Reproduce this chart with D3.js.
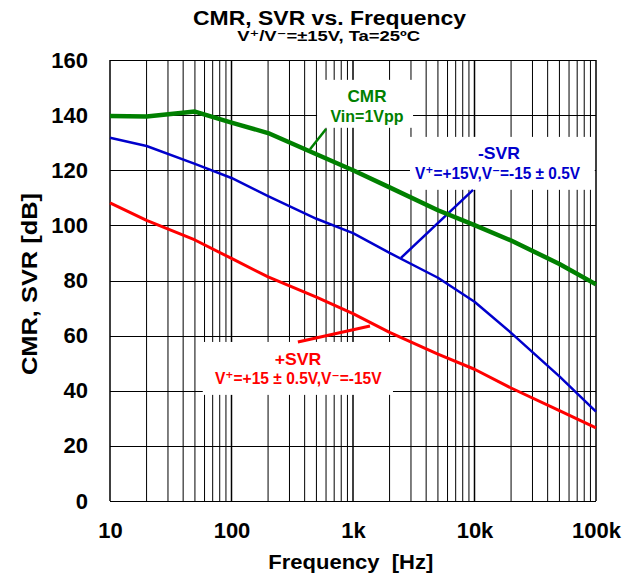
<!DOCTYPE html>
<html>
<head>
<meta charset="utf-8">
<script src="https://cdn.jsdelivr.net/npm/d3@7"></script>
<style>
  html, body { margin: 0; padding: 0; background: #fff; }
  text { font-family: "Liberation Sans", Arial, "DejaVu Sans", sans-serif; font-weight: bold; }
</style>
</head>
<body>
<svg id="chart" width="638" height="581"></svg>
<script>
// ---- data ----
const freq   = [10, 20, 50, 100, 200, 500, 1000, 2000, 5000, 10000, 20000, 50000, 100000];
const cmr    = [139.7, 139.5, 141.3, 137.3, 133.5, 125.8, 120, 113.8, 105.5, 100.1, 94.5, 86, 78.6];
const svrNeg = [131.8, 128.8, 122.3, 117.2, 110.6, 102.4, 97.2, 90, 81, 72.3, 61, 45.2, 32.4];
const svrPos = [108.2, 101.8, 94.7, 88, 81.3, 74, 68, 61.2, 53.3, 47.8, 41, 32.8, 26.5];
const xTickValues = [10, 100, 1000, 10000, 100000];
const xTickLabels = ["10", "100", "1k", "10k", "100k"];
const yTickValues = [0, 20, 40, 60, 80, 100, 120, 140, 160];

const L = 110, R = 596, T = 60, B = 501;
const svg = d3.select("#chart");

const x = d3.scaleLog().domain([10, 100000]).range([L, R]);
const y = d3.scaleLinear().domain([0, 160]).range([B, T]);

// ---- grid ----
const grid = svg.append("g");
const minorF = [];
for (let d = 10; d < 100000; d *= 10) for (let k = 2; k <= 9; k++) minorF.push(d * k);
grid.selectAll("line.minor").data(minorF).enter().append("line")
  .attr("x1", d => x(d)).attr("x2", d => x(d)).attr("y1", T).attr("y2", B)
  .attr("stroke", "#000").attr("stroke-width", 1);
grid.selectAll("line.major").data(xTickValues).enter().append("line")
  .attr("x1", d => x(d)).attr("x2", d => x(d)).attr("y1", T).attr("y2", B)
  .attr("stroke", "#000").attr("stroke-width", 1.5);
grid.selectAll("line.h").data(yTickValues).enter().append("line")
  .attr("x1", L).attr("x2", R).attr("y1", d => Math.round(y(d)) + 0.5).attr("y2", d => Math.round(y(d)) + 0.5)
  .attr("stroke", "#000").attr("stroke-width", 1);

// ---- annotation boxes (white background behind labels), in data coords ----
const boxes = [
  { f0: 506, f1: 3120, v0: 152.8, v1: 135.4 },
  { f0: 2944, f1: 97700, v0: 132.1, v1: 112.9 },
  { f0: 58, f1: 2133, v0: 57.7, v1: 38.5 }
];
svg.append("g").selectAll("rect").data(boxes).enter().append("rect")
  .attr("x", d => x(d.f0)).attr("width", d => x(d.f1) - x(d.f0))
  .attr("y", d => y(d.v0)).attr("height", d => y(d.v1) - y(d.v0))
  .attr("fill", "#fff");

// ---- curves ----
const line = d3.line().x(d => x(d[0])).y(d => y(d[1]));
const series = [
  { vals: svrPos, color: "#ff0000", w: 3 },
  { vals: svrNeg, color: "#0000cc", w: 2.5 },
  { vals: cmr,    color: "#008000", w: 4.5 }
];

// leaders
const leaders = [
  { f0: 352, v0: 57.7, f1: 1380, v1: 63.5, color: "#ff0000", w: 3 },
  { f0: 2483, v0: 88.2, f1: 9730, v1: 112.9, color: "#0000cc", w: 2.5 },
  { f0: 443, v0: 127.6, f1: 600, v1: 135.0, color: "#008000", w: 2.5 }
];
svg.append("g").selectAll("line").data(leaders).enter().append("line")
  .attr("x1", d => x(d.f0)).attr("y1", d => y(d.v0))
  .attr("x2", d => x(d.f1)).attr("y2", d => y(d.v1))
  .attr("stroke", d => d.color).attr("stroke-width", d => d.w);

svg.append("g").selectAll("path").data(series).enter().append("path")
  .attr("d", d => line(freq.map((f, i) => [f, d.vals[i]])))
  .attr("fill", "none").attr("stroke", d => d.color).attr("stroke-width", d => d.w)
  .attr("stroke-linejoin", "round");

// ---- axes ----
const yAxis = svg.append("g").attr("transform", `translate(${L},0)`)
  .call(d3.axisLeft(y).tickValues(yTickValues).tickSize(0).tickPadding(22).tickFormat(d3.format("d")));
yAxis.select(".domain").remove();
yAxis.selectAll("text").attr("font-size", 22).attr("fill", "#000")
  .style("font-family", '"Liberation Sans", Arial, sans-serif').style("font-weight", "bold");

const xAxis = svg.append("g").attr("transform", `translate(0,${B})`)
  .call(d3.axisBottom(x).tickValues(xTickValues).tickSize(0).tickPadding(21)
    .tickFormat((d, i) => xTickLabels[i]));
xAxis.select(".domain").remove();
xAxis.selectAll("text").attr("font-size", 22).attr("fill", "#000")
  .style("font-family", '"Liberation Sans", Arial, sans-serif').style("font-weight", "bold");

// ---- titles ----
function txt(cx, by, size, len, color, s) {
  return svg.append("text").attr("x", cx).attr("y", by).attr("text-anchor", "middle")
    .attr("font-size", size).attr("fill", color)
    .attr("textLength", len).attr("lengthAdjust", "spacingAndGlyphs")
    .style("white-space", "pre").text(s);
}
txt(329.5, 24.5, 19.5, 273, "#000", "CMR, SVR vs. Frequency");
txt(328.7, 41, 15, 183, "#000", "V\u207A/V\u207B=±15V, Ta=25ºC");
txt(350.8, 569.3, 21, 165, "#000", "Frequency  [Hz]");
svg.append("text").attr("transform", "translate(36.5,284) rotate(-90)").attr("text-anchor", "middle")
  .attr("font-size", 22).attr("textLength", 182).attr("lengthAdjust", "spacingAndGlyphs")
  .text("CMR, SVR [dB]");

// ---- labels ----
txt(367, 101.7, 17, 39, "#008000", "CMR");
txt(367, 121.7, 17, 73, "#008000", "Vin=1Vpp");
txt(499, 159.3, 17, 42, "#0000cc", "-SVR");
txt(497.5, 179.3, 17, 165, "#0000cc", "V\u207A=+15V,V\u207B=-15 ± 0.5V");
txt(298, 365, 17, 46.7, "#ff0000", "+SVR");
txt(298.3, 384, 17, 166.7, "#ff0000", "V\u207A=+15 ± 0.5V,V\u207B=-15V");
</script>
</body>
</html>
